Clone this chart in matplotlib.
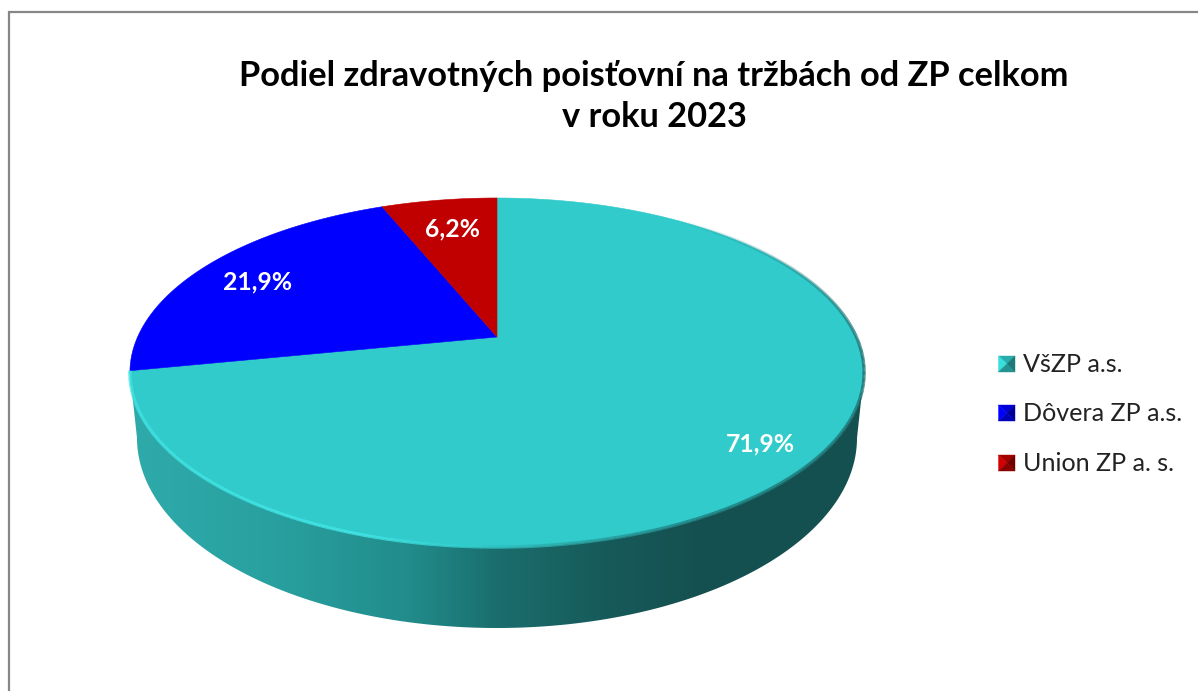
import numpy as np
import matplotlib
matplotlib.use("Agg")
import matplotlib.pyplot as plt
from matplotlib.collections import LineCollection
from matplotlib.colors import LinearSegmentedColormap
from matplotlib.patches import Polygon

# -----------------------------
# Data
# -----------------------------
poistovne = ["VšZP a.s.", "Dôvera ZP a.s.", "Union ZP a. s."]
podiely = [71.9, 21.9, 6.2]
farby = ["#30CBCA", "#0000FF", "#C00000"]
titulok = "Podiel zdravotných poisťovní na tržbách od ZP celkom\nv roku 2023"

# -----------------------------
# Perspective of the 3D pie (pixels)
# -----------------------------
STRED_X, STRED_Y = 497, 337
K = 0.2035
A = 359.4
D = 167.3
# lower outline of the side
SPODOK_A, SPODOK_B, SPODOK_Y = 360, 190, 438


def projekcia(uhol):
    # uhol in degrees, clockwise from the top of the pie
    t = np.radians(uhol)
    w = 1 + K * np.cos(t)
    x = STRED_X + A * np.sin(t) / w
    y = STRED_Y - D * np.cos(t) / w
    return x, y


plt.rcParams["font.family"] = ["Lato", "Open Sans", "DejaVu Sans"]

fig = plt.figure(figsize=(11.98, 6.91), dpi=100)
ax = fig.add_axes([0, 0, 1, 1])
ax.set_xlim(0, 1198)
ax.set_ylim(691, 0)
ax.axis("off")

# outer frame
ax.plot([8.5, 8.5, 1198], [691, 11.5, 11.5], color="#878787", lw=1.6, solid_joinstyle="miter")

# -----------------------------
# Side of the pie
# -----------------------------
uhol_p = np.degrees(np.arccos(-K))
uhly_bok = np.linspace(uhol_p, 360 - uhol_p, 300)
hx, hy = projekcia(uhly_bok)
t_spodok = np.linspace(np.pi / 2, 3 * np.pi / 2, 300)
dx = STRED_X + SPODOK_A * np.sin(t_spodok)
dy = SPODOK_Y - SPODOK_B * np.cos(t_spodok)
bok = Polygon(np.column_stack([np.r_[hx, dx[::-1]], np.r_[hy, dy[::-1]]]),
              closed=True, fc="none", ec="none", transform=ax.transData)
ax.add_patch(bok)

# x positions run from the left edge to the right edge of the pie
bok_cmap = LinearSegmentedColormap.from_list("bok", [
    (0.00, "#2FAAAB"), (0.20, "#28A09F"), (0.38, "#218C8B"),
    (0.50, "#1A6E6D"), (0.65, "#175A5A"), (0.78, "#155050"), (1.00, "#155050"),
])
gradient = np.linspace(0, 1, 512).reshape(1, -1)
obr = ax.imshow(gradient, cmap=bok_cmap, extent=(130, 864, 640, 360), aspect="auto", zorder=2)
obr.set_clip_path(bok)
ax.set_xlim(0, 1198)
ax.set_ylim(691, 0)

# -----------------------------
# Top of the pie, one wedge per share
# -----------------------------
hranice = np.r_[0, np.cumsum(podiely)] / np.sum(podiely) * 360
for i, farba in enumerate(farby):
    uhly = np.linspace(hranice[i], hranice[i + 1], 300)
    x, y = projekcia(uhly)
    body = np.column_stack([np.r_[STRED_X, x], np.r_[STRED_Y, y]])
    ax.add_patch(Polygon(body, closed=True, fc=farba, ec=farba, lw=0.4, zorder=3))

# rim of the first wedge: light on the left, dark on the right, fading in at the back
uhly_h = np.linspace(hranice[0] + 35, hranice[1], 600)
rx, ry = projekcia(uhly_h)
body = np.column_stack([rx, ry]).reshape(-1, 1, 2)
useky = np.concatenate([body[:-1], body[1:]], axis=1)
hrana_cmap = LinearSegmentedColormap.from_list("hrana", [
    (0.00, "#1F6F70"), (0.22, "#1F7F80"), (0.40, "#2AA5A5"),
    (0.53, "#30CBCA"), (0.68, "#42E6E6"), (1.00, "#40E4E4"),
])
pozicie = (rx[:-1] - 130) / (864 - 130)
farby_hrany = hrana_cmap(1 - pozicie)
farby_hrany[:, 3] = np.clip((uhly_h[:-1] - uhly_h[0]) / 60, 0, 1) * 0.85
ax.add_collection(LineCollection(useky, colors=farby_hrany, linewidths=2.4, zorder=4))

# -----------------------------
# Texts
# -----------------------------
ax.text(654, 96.5, titulok, ha="center", va="center", fontsize=24.75, fontweight="bold",
        color="black", linespacing=1.31, zorder=6)

pozicie_popisov = [(760, 444), (258, 282), (453, 229)]
for hodnota, (px, py) in zip(podiely, pozicie_popisov):
    ax.text(px, py, f"{hodnota:.1f}%".replace(".", ","), ha="center", va="center",
            fontsize=17.8, fontweight="bold", color="white", zorder=6)

# -----------------------------
# Legend with pyramid markers
# -----------------------------
legenda_y = [364, 413, 463]
for nazov, farba, ly in zip(poistovne, farby, legenda_y):
    x0, x1 = 998.5, 1015
    y0, y1 = ly - 8, ly + 8
    cx, cy = (x0 + x1) / 2, ly
    zaklad = np.array(matplotlib.colors.to_rgb(farba))
    casti = [
        ([(x0, y0), (x1, y0), (cx, cy)], 0.85),
        ([(x0, y0), (x0, y1), (cx, cy)], 1.1),
        ([(x1, y0), (x1, y1), (cx, cy)], 0.6),
        ([(x0, y1), (x1, y1), (cx, cy)], 0.72),
    ]
    for trojuholnik, jas in casti:
        fc = np.clip(zaklad * jas, 0, 1)
        ax.add_patch(Polygon(trojuholnik, closed=True, fc=fc, ec=fc, lw=0.3, zorder=5))
    ax.text(1023, ly, nazov, ha="left", va="center", fontsize=18.1, color="#222222", zorder=6)

fig.savefig("out.png", dpi=100, facecolor="white")
